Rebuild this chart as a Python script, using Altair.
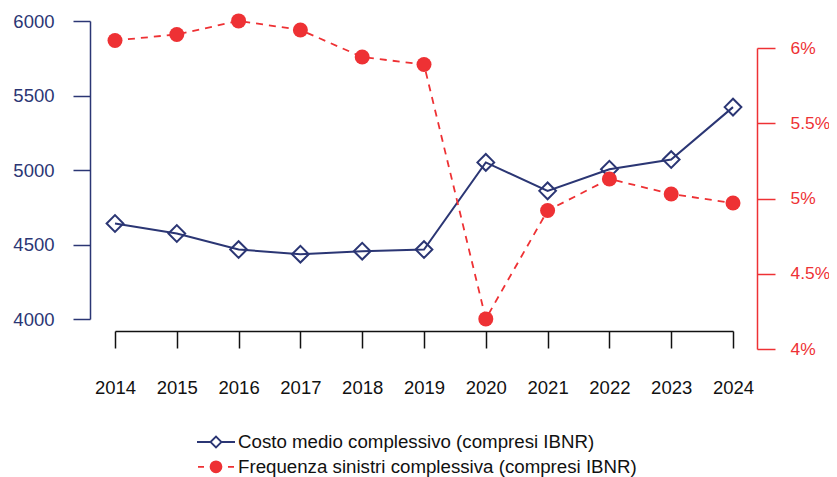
import altair as alt
import pandas as pd

anni = [2014, 2015, 2016, 2017, 2018, 2019, 2020, 2021, 2022, 2023, 2024]
costo_medio = [4641, 4574, 4466, 4435, 4455, 4466, 5051, 4860, 5005, 5070, 5422]
frequenza = [6.05, 6.09, 6.18, 6.12, 5.94, 5.89, 4.20, 4.92, 5.13, 5.03, 4.97]
serie = ["Costo medio complessivo (compresi IBNR)",
         "Frequenza sinistri complessiva (compresi IBNR)"]
ticks_costo = [4000, 4500, 5000, 5500, 6000]
ticks_freq = [4, 4.5, 5, 5.5, 6]

NAVY = "#2B3674"
RED = "#EE3134"
FONT = "Liberation Sans"
AX_FS = 18.5

df = pd.DataFrame({"anno": anni, "costo": costo_medio, "freq": frequenza})
leg = pd.DataFrame({"serie": serie})

x_enc = alt.X(
    "anno:Q",
    scale=alt.Scale(domain=[2014, 2024], range=[25, 643], zero=False, nice=False),
    axis=alt.Axis(values=anni, format="d", title=None, grid=False, labelFlush=False,
                  labelOverlap=False, tickSize=17, tickWidth=1.5, domainWidth=1.5,
                  domainColor="#111111", tickColor="#111111", labelColor="#111111",
                  labelFont=FONT, labelFontSize=AX_FS, labelPadding=30),
)

y_costo = alt.Y(
    "costo:Q",
    scale=alt.Scale(domain=[4000, 6000], range=[298, 0], zero=False, nice=False),
    axis=alt.Axis(orient="left", values=ticks_costo, format="d", title=None, grid=False,
                  tickSize=17, tickWidth=1.5, domainWidth=1.5, domainColor=NAVY,
                  tickColor=NAVY, labelColor=NAVY, labelFont=FONT, labelFontSize=AX_FS,
                  labelPadding=19, labelOverlap=False, labelFlush=False),
)

y_freq = alt.Y(
    "freq:Q",
    scale=alt.Scale(domain=[4, 6], range=[328, 27], zero=False, nice=False),
    axis=alt.Axis(orient="right", values=ticks_freq, labelExpr="datum.value + '%'",
                  title=None, grid=False, tickSize=18, tickWidth=1.5, domainWidth=1.5,
                  domainColor=RED, tickColor=RED, labelColor=RED, labelFont=FONT,
                  labelFontSize=17.4, labelPadding=15, labelOverlap=False, labelFlush=False),
)

base = alt.Chart(df)
blu_line = base.mark_line(color=NAVY, strokeWidth=2).encode(x=x_enc, y=y_costo)
blu_pts = base.mark_point(shape="diamond", size=280, color=NAVY, strokeWidth=2,
                          filled=False, opacity=1).encode(x=x_enc, y=y_costo)
red_line = base.mark_line(color=RED, strokeWidth=1.8, strokeDash=[7, 6]).encode(x=x_enc, y=y_freq)
red_pts = base.mark_point(shape="circle", size=225, color=RED, filled=True,
                          opacity=1).encode(x=x_enc, y=y_freq)

blue = alt.layer(blu_line, blu_pts)
red = alt.layer(red_line, red_pts)

path_blu = "M-2.11,0L-0.61,0M0.61,0L2.11,0M-0.61,0L0,-0.61L0.61,0L0,0.61Z"
path_red = ("M-2,0L-1.33,0M1.33,0L2,0M-0.61,0A0.61,0.61 0 1,0 0.61,0"
            "A0.61,0.61 0 1,0 -0.61,0Z")

legend = alt.Legend(title=None, orient="none", legendX=116, legendY=411,
                    direction="vertical", symbolSize=324, symbolStrokeWidth=1.8,
                    symbolOpacity=1, labelFont=FONT, labelFontSize=18.7,
                    labelColor="#111111", labelOffset=12, rowPadding=4.8, padding=0,
                    labelLimit=600)

legend_layer = alt.Chart(leg).mark_point(opacity=0).encode(
    shape=alt.Shape("serie:N", scale=alt.Scale(domain=serie, range=[path_blu, path_red]),
                    legend=legend),
    stroke=alt.Stroke("serie:N", scale=alt.Scale(domain=serie, range=[NAVY, RED]),
                      legend=legend),
    fill=alt.Fill("serie:N", scale=alt.Scale(domain=serie, range=["transparent", RED]),
                  legend=legend),
)

chart = alt.layer(blue, red, legend_layer).resolve_scale(y="independent").properties(
    width=667, height=310,
    background="white",
    autosize=alt.AutoSizeParams(type="none"),
    padding={"left": 82, "top": 13, "right": 72, "bottom": 146},
).configure_view(stroke=None)

chart.save("out.html", embed_options={"renderer": "svg", "actions": False})
